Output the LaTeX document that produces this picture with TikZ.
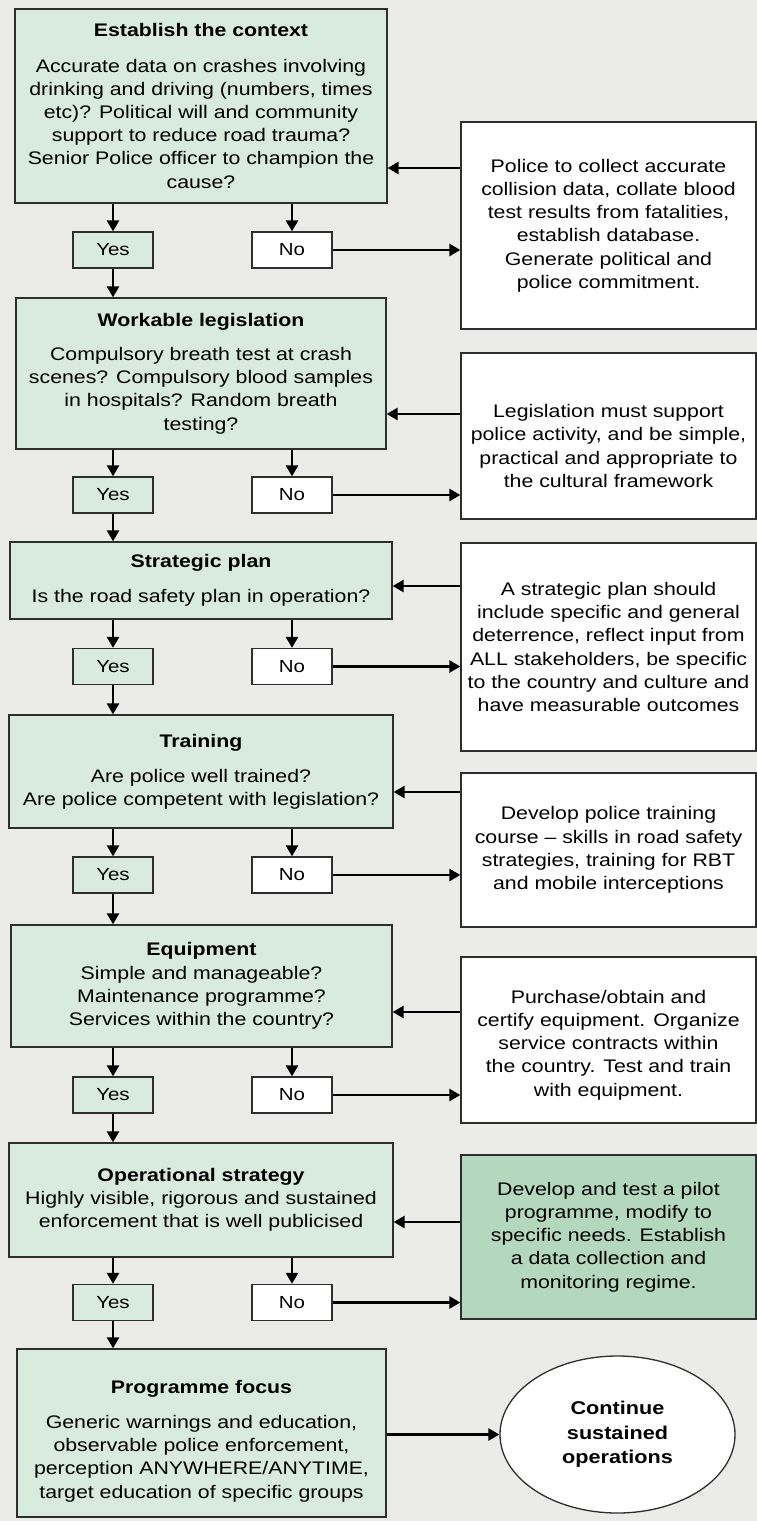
\documentclass[tikz,border=0pt]{standalone}
\usepackage{fontspec}
\setmainfont{Liberation Sans}[FakeStretch=1.17]
\usetikzlibrary{arrows.meta,shapes.geometric,calc}
\definecolor{bg}{HTML}{EBECEA}
\definecolor{lg}{HTML}{D9EADF}
\definecolor{dg}{HTML}{B4D8BE}
\definecolor{bd}{HTML}{2E2E2E}
\begin{document}
\begin{tikzpicture}[x=1pt,y=-1pt,
 box/.style={draw=bd, line width=1.3pt, fill=lg, align=center, inner sep=0pt, font=\fontsize{18.2}{23.2}\selectfont},
 rbox/.style={box, fill=white},
 txt/.style={align=center, inner sep=0pt, font=\fontsize{18.2}{23.2}\selectfont},
 yesbox/.style={draw=bd, line width=1.3pt, fill=lg, minimum width=80pt, minimum height=36pt, inner sep=0pt, font=\fontsize{17.5}{20}\selectfont},
 nobox/.style={yesbox, fill=white},
 arr/.style={line width=2.5pt, -{Triangle[length=11pt,width=12pt]}},
]
\useasboundingbox (0,0) rectangle (757,1521);
\fill[bg] (0,0) rectangle (757,1521);

% left boxes
\node[box, minimum width=372pt, minimum height=194pt] (ctx) at (201,106) {\textbf{Establish the context}\\[12pt]Accurate data on crashes involving\\drinking and driving (numbers, times\\etc)? Political will and community\\support to reduce road trauma?\\Senior Police officer to champion the\\cause?};
\node[box, minimum width=370pt, minimum height=151pt] (leg) at (201,373.5) {\textbf{Workable legislation}\\[11pt]Compulsory breath test at crash\\scenes? Compulsory blood samples\\in hospitals? Random breath\\testing?};
\node[box, minimum width=382pt, minimum height=77pt] (strat) at (201,580.5) {\textbf{Strategic plan}\\[12pt]Is the road safety plan in operation?};
\node[box, minimum width=384pt, minimum height=113pt] (train) at (201,771.5) {\textbf{Training}\\[12pt]Are police well trained?\\Are police competent with legislation?};
\node[box, minimum width=381pt, minimum height=122pt] (equip) at (201.5,986) {\textbf{Equipment}\\Simple and manageable?\\Maintenance programme?\\Services within the country?};
\node[box, minimum width=384pt, minimum height=114pt] (oper) at (201,1200) {\textbf{Operational strategy}\\Highly visible, rigorous and sustained\\enforcement that is well publicised};
\node[box, minimum width=369pt, minimum height=168pt] (prog) at (201.5,1433) {};
\node[txt] (progt) at (201.5,1441) {\textbf{Programme focus}\\[12pt]Generic warnings and education,\\observable police enforcement,\\perception ANYWHERE/ANYTIME,\\target education of specific groups};

% right boxes
\node[rbox, minimum width=295pt, minimum height=207pt] (r1) at (608.5,225.5) {Police to collect accurate\\collision data, collate blood\\test results from fatalities,\\establish database.\\Generate political and\\police commitment.};
\node[rbox, minimum width=295pt, minimum height=166pt] (r2) at (608.5,436) {};
\node[txt] (r2t) at (608.5,446) {Legislation must support\\police activity, and be simple,\\practical and appropriate to\\the cultural framework};
\node[rbox, minimum width=295pt, minimum height=208pt] (r3) at (608.5,647) {A strategic plan should\\include specific and general\\deterrence, reflect input from\\ALL stakeholders, be specific\\to the country and culture and\\have measurable outcomes};
\node[rbox, minimum width=295pt, minimum height=154pt] (r4) at (608.5,850) {Develop police training\\course -- skills in road safety\\strategies, training for RBT\\and mobile interceptions};
\node[rbox, minimum width=295pt, minimum height=166pt] (r5) at (608.5,1040) {};
\node[txt] (r5t) at (608.5,1045) {Purchase/obtain and\\certify equipment. Organize\\service contracts within\\the country. Test and train\\with equipment.};
\node[box, fill=dg, minimum width=295pt, minimum height=164pt] (r6) at (608.5,1237) {Develop and test a pilot\\programme, modify to\\specific needs. Establish\\a data collection and\\monitoring regime.};

% yes / no
\node[yesbox] (y1) at (113,250) {Yes};
\node[nobox] (n1) at (292,250) {No};
\node[yesbox] (y2) at (113,495) {Yes};
\node[nobox] (n2) at (292,495) {No};
\node[yesbox] (y3) at (113,666.5) {Yes};
\node[nobox] (n3) at (292,666.5) {No};
\node[yesbox] (y4) at (113,875) {Yes};
\node[nobox] (n4) at (292,875) {No};
\node[yesbox] (y5) at (113,1095) {Yes};
\node[nobox] (n5) at (292,1095) {No};
\node[yesbox] (y6) at (113,1302.5) {Yes};
\node[nobox] (n6) at (292,1302.5) {No};

% ellipse
\node[draw=bd, line width=1.3pt, fill=white, ellipse, minimum width=235pt, minimum height=157pt, inner sep=0pt, align=center, font=\bfseries\fontsize{18.5}{24.5}\selectfont] (ell) at (617.5,1434.5) {Continue\\sustained\\operations};

% coordinates for feedback arrows
\coordinate (a1) at (0,168);
\coordinate (a2) at (0,414);
\coordinate (a3) at (0,586);
\coordinate (a4) at (0,792);
\coordinate (a5) at (0,1012);
\coordinate (a6) at (0,1222);

% down arrows
\foreach \b/\y/\n in {ctx/y1/n1, leg/y2/n2, strat/y3/n3, train/y4/n4, equip/y5/n5, oper/y6/n6}{
  \draw[arr] (\b.south -| \y.north) -- (\y.north);
  \draw[arr] (\b.south -| \n.north) -- (\n.north);
}
\draw[arr] (y1.south) -- (y1.south |- leg.north);
\draw[arr] (y2.south) -- (y2.south |- strat.north);
\draw[arr] (y3.south) -- (y3.south |- train.north);
\draw[arr] (y4.south) -- (y4.south |- equip.north);
\draw[arr] (y5.south) -- (y5.south |- oper.north);
\draw[arr] (y6.south) -- (y6.south |- prog.north);

% no -> right boxes
\draw[arr] (n1.east) -- (n1.east -| r1.west);
\draw[arr] (n2.east) -- (n2.east -| r2.west);
\draw[arr] (n3.east) -- (n3.east -| r3.west);
\draw[arr] (n4.east) -- (n4.east -| r4.west);
\draw[arr] (n5.east) -- (n5.east -| r5.west);
\draw[arr] (n6.east) -- (n6.east -| r6.west);

% right boxes -> left boxes
\draw[arr] (r1.west |- a1) -- (ctx.east |- a1);
\draw[arr] (r2.west |- a2) -- (leg.east |- a2);
\draw[arr] (r3.west |- a3) -- (strat.east |- a3);
\draw[arr] (r4.west |- a4) -- (train.east |- a4);
\draw[arr] (r5.west |- a5) -- (equip.east |- a5);
\draw[arr] (r6.west |- a6) -- (oper.east |- a6);

% programme -> ellipse
\draw[arr] (prog.east |- ell.west) -- (ell.west);
\end{tikzpicture}
\end{document}
